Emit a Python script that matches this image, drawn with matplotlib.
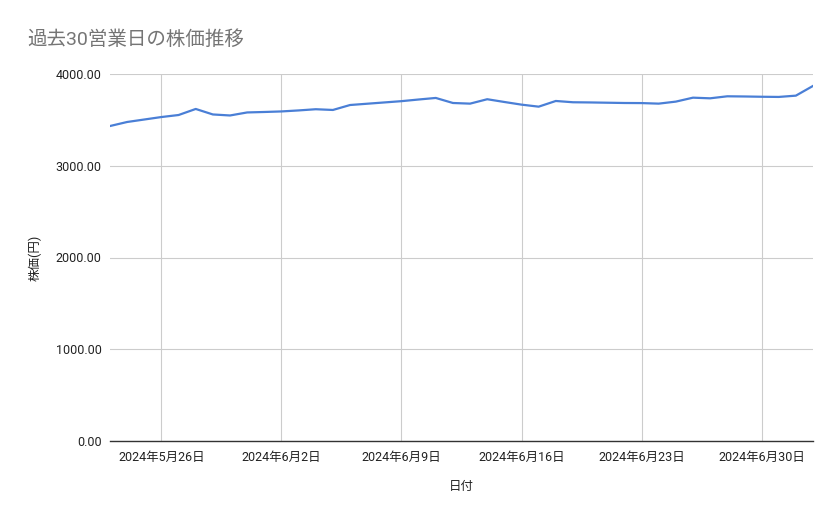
import datetime as dt
import matplotlib
matplotlib.use("Agg")
import matplotlib.pyplot as plt
import matplotlib.dates as mdates
from matplotlib.ticker import FuncFormatter, MultipleLocator

plt.rcParams['font.family'] = ['Roboto', 'Noto Sans CJK JP', 'DejaVu Sans']

start = dt.date(2024, 5, 23)
prices = [3433, 3477, 3504, 3531, 3553, 3619, 3559, 3548, 3581, 3586,
          3592, 3603, 3616, 3608, 3662, 3676, 3690, 3704, 3722, 3739,
          3684, 3677, 3725, 3695, 3666, 3644, 3706, 3692, 3690, 3687,
          3684, 3683, 3677, 3699, 3742, 3735, 3757, 3755, 3752, 3750,
          3764, 3870]
dates = [start + dt.timedelta(days=i) for i in range(len(prices))]
tick_dates = [dt.date(2024, 5, 26), dt.date(2024, 6, 2), dt.date(2024, 6, 9),
              dt.date(2024, 6, 16), dt.date(2024, 6, 23), dt.date(2024, 6, 30)]

title = "過去30営業日の株価推移"
xlabel = "日付"
ylabel = "株価(円)"

fig = plt.figure(figsize=(8.39, 5.19), dpi=100)
ax = fig.add_axes([110 / 839, 1 - 441 / 519, 703 / 839, 367 / 519])

ax.plot(dates, prices, color='#4a7fd6', linewidth=1.6, zorder=3)

ax.set_xlim(dates[0], dates[-1])
ax.set_ylim(0, 4000)
ax.yaxis.set_major_locator(MultipleLocator(1000))
ax.yaxis.set_major_formatter(FuncFormatter(lambda v, p: f"{v:.2f}"))
ax.set_xticks(tick_dates)
ax.xaxis.set_major_formatter(FuncFormatter(
    lambda v, p: (lambda d: f"{d.year}年{d.month}月{d.day}日")(mdates.num2date(v))))

ax.grid(True, color='#cccccc', linewidth=0.8)
for s in ['top', 'right', 'left']:
    ax.spines[s].set_visible(False)
ax.spines['bottom'].set_color('#333333')
ax.spines['bottom'].set_linewidth(1.0)
ax.tick_params(axis='both', length=0, labelsize=9, colors='#222222')
ax.tick_params(axis='y', pad=6)
ax.tick_params(axis='x', pad=7)

ax.set_xlabel(xlabel, fontsize=9, color='#222222', labelpad=12)
ax.set_ylabel(ylabel, fontsize=9, color='#222222', labelpad=10)

fig.text(27 / 839, 1 - 40 / 519, title, fontsize=14, color='#757575',
         ha='left', va='center')

fig.savefig("out.png", dpi=100)
